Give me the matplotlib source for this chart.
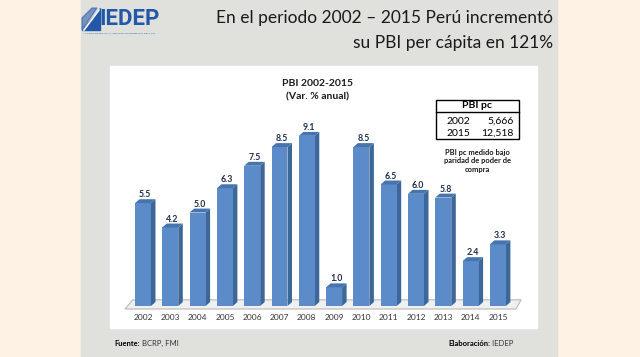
import numpy as np
import matplotlib.pyplot as plt
from matplotlib.patches import Polygon, Rectangle

years = ['2002', '2003', '2004', '2005', '2006', '2007', '2008',
         '2009', '2010', '2011', '2012', '2013', '2014', '2015']
pbi_var = [5.5, 4.2, 5.0, 6.3, 7.5, 8.5, 9.1, 1.0, 8.5, 6.5, 6.0, 5.8, 2.4, 3.3]

pc_years = ['2002', '2015']
pc_values = ['5,666', '12,518']

plt.rcParams['font.family'] = ['Lato', 'DejaVu Sans']

W, H = 640, 357
fig = plt.figure(figsize=(W / 100, H / 100), dpi=100)
fig.patch.set_facecolor('#fdf2e4')

# background layer in pixel coords
bg = fig.add_axes([0, 0, 1, 1])
bg.set_xlim(0, W)
bg.set_ylim(H, 0)
bg.axis('off')
bg.add_patch(Rectangle((81, 0), 476, H, color='#e0e0dc'))
bg.add_patch(Rectangle((110, 66), 427, 262, color='white'))

# logo
blue = '#2358a8'
bg.add_patch(Polygon([(82, 30), (100, 30), (100, 8)], color=blue))
bg.add_patch(Polygon([(82, 30), (82, 18), (92, 8), (97, 8)], color=blue, alpha=0.55))
bg.plot([84, 99], [30, 10], color='white', lw=1.2)
bg.text(99, 19, 'IEDEP', color=blue, fontsize=16, fontweight='bold',
        ha='left', va='center', family=['Roboto', 'DejaVu Sans'])
bg.text(83, 33.5, 'INSTITUTO DE ECONOMIA Y DESARROLLO EMPRESARIAL DE LA CCL',
        color=blue, fontsize=1.6, ha='left', va='center')

# slide title
bg.text(553, 18, 'En el periodo 2002 \u2013 2015 Perú incrementó', fontsize=12.5,
        ha='right', va='center', color='#1a1a1a')
bg.text(553, 43, 'su PBI per cápita en 121%', fontsize=12.5,
        ha='right', va='center', color='#1a1a1a')

# chart title
bg.text(318, 83, 'PBI 2002-2015', fontsize=7.5, fontweight='bold',
        ha='center', va='center', color='#1a1a1a')
bg.text(318, 97, '(Var. % anual)', fontsize=7.5, fontweight='bold',
        ha='center', va='center', color='#1a1a1a')

# PBI pc table
bg.add_patch(Rectangle((436, 100), 83, 39, fill=False, ec='black', lw=1))
bg.plot([436, 519], [112, 112], color='black', lw=1)
bg.text(477, 106, 'PBI pc', fontsize=7.5, fontweight='bold', ha='center', va='center')
for i, (yr, val) in enumerate(zip(pc_years, pc_values)):
    yy = 121 + i * 12
    bg.text(458, yy, yr, fontsize=7.5, ha='center', va='center')
    bg.text(514, yy, val, fontsize=7.5, ha='right', va='center')
bg.text(477, 161, 'PBI pc medido bajo\nparidad de poder de\ncompra', fontsize=5.4,
        fontweight='bold', ha='center', va='center', linespacing=1.3, color='#1a1a1a')

# footer
t1 = bg.text(114, 343, 'Fuente:', fontsize=5.5, fontweight='bold', ha='left', va='center')
bg.annotate(' BCRP, FMI', xy=(1, 0.5), xycoords=t1, fontsize=5.5, ha='left',
            va='center', color='#333333')
t2 = bg.text(448, 343, 'Elaboración:', fontsize=5.5, fontweight='bold', ha='left', va='center')
bg.annotate(' IEDEP', xy=(1, 0.5), xycoords=t2, fontsize=5.5, ha='left',
            va='center', color='#333333')

# bar chart
x0, x1 = -0.8, 13.8
y0, y1 = 0, 10.2
px_x, px_y = 27.3, 18.7
left = 143 + x0 * px_x
bottom = 306
ax = fig.add_axes([left / W, (H - bottom) / H, (x1 - x0) * px_x / W,
                   (y1 - y0) * px_y / H])
ax.set_xlim(x0, x1)
ax.set_ylim(y0, y1)
ax.patch.set_visible(False)
for s in ax.spines.values():
    s.set_visible(False)
ax.set_yticks([])

x = np.arange(len(years))
w = 0.585
dx, dy = 0.165, 0.21

floor = Polygon([(-0.66, -0.16), (13.66, -0.16), (13.85, 0.33), (-0.37, 0.33)],
                closed=True, fc='#f0f0f0', ec='#b8b8b8', lw=0.8, clip_on=False, zorder=1)
ax.add_patch(floor)

ax.bar(x, pbi_var, width=w, color='#5b8bc9', zorder=3, clip_on=False)
for xi, v in zip(x, pbi_var):
    r = xi + w / 2
    l = xi - w / 2
    ax.add_patch(Polygon([(r, 0), (r + dx, dy), (r + dx, v + dy), (r, v)],
                         fc='#3c6798', ec='none', zorder=2, clip_on=False))
    ax.add_patch(Polygon([(l, v), (r, v), (r + dx, v + dy), (l + dx, v + dy)],
                         fc='#4674ad', ec='none', zorder=3, clip_on=False))
    ax.text(xi + dx / 2, v + 0.45, f'{v:.1f}', fontsize=6.3, fontweight='bold',
            ha='center', va='center', color='#1f2d4d')

ax.set_xticks(x, years)
ax.tick_params(axis='x', length=0, pad=6, labelsize=6, labelcolor='#333333')

fig.savefig('out.png', dpi=100, facecolor=fig.get_facecolor())
